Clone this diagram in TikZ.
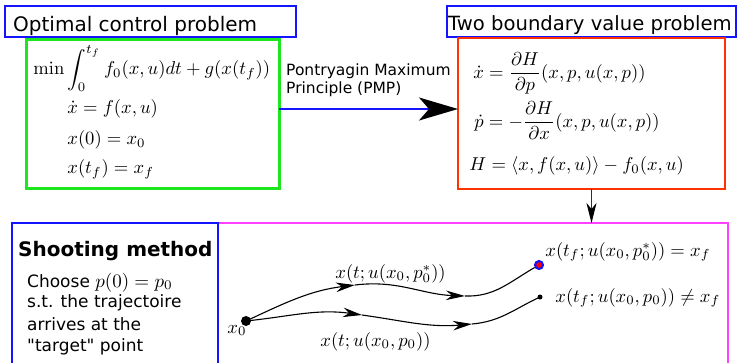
\documentclass[tikz,border=0pt]{standalone}
\usepackage{amsmath}
\usepackage[no-math]{fontspec}
\setmainfont{DejaVu Sans}[Ligatures=TeXOff]
\usetikzlibrary{arrows.meta}
\definecolor{cgreen}{RGB}{30,230,30}
\definecolor{cred}{RGB}{255,51,0}
\definecolor{cpink}{RGB}{255,64,255}
\definecolor{cblue}{RGB}{20,20,255}
\newcommand{\bigmath}[1]{\scalebox{1.9}{\fontsize{10}{12}\selectfont$#1$}}
\tikzset{
  box/.style={draw, anchor=north west, inner sep=0pt, outer sep=0pt},
  ttl/.style={anchor=base west, inner sep=0pt, font=\fontsize{20}{24}\selectfont},
  eq/.style={anchor=base west, inner sep=0pt, font=\fontsize{10}{12}\selectfont, scale=1.86},
  txt/.style={anchor=base west, inner sep=0pt, font=\fontsize{17}{20}\selectfont},
  pmptxt/.style={anchor=base west, inner sep=0pt, font=\fontsize{15.5}{18}\selectfont},
  traj/.style={line width=1.1pt},
  midarrow/.style={-{Stealth[length=19pt,width=9.5pt,inset=6pt]}},
}
\begin{document}
\begin{tikzpicture}[x=1pt,y=1pt]
\useasboundingbox (0,0) rectangle (737,-362);
\clip (0,0) rectangle (737,-362);

% boxes
\node[box, draw=cblue, line width=2.2pt, minimum width=291pt, minimum height=31pt] (t1) at (5,-6) {};
\node[box, draw=cgreen, line width=3pt, minimum width=253pt, minimum height=149pt] (green) at (26,-39) {};
\node[box, draw=cblue, line width=2.2pt, minimum width=289pt, minimum height=31pt] (t2) at (447,-6) {};
\node[box, draw=cred, line width=2pt, minimum width=267pt, minimum height=151pt] (red) at (458,-38) {};
\node[box, draw=cpink, line width=2.5pt, minimum width=510pt, minimum height=170pt] (pink) at (218,-223) {};
\node[box, draw=cblue, line width=2.4pt, minimum width=206pt, minimum height=170pt] (shoot) at (12,-223) {};

% titles
\node[ttl] (t1txt) at (13,-31) {Optimal control problem};
\node[ttl, font=\fontsize{19.6}{24}\selectfont] (t2txt) at (448,-30.7) {Two boundary value problem};

% optimal control equations
\node[eq] (m1) at (33,-74.6) {$\min\displaystyle\int_0^{t_f} f_0(x,u)dt+g(x(t_f))$};
\node[eq] (m2) at (67,-113) {$\dot x = f(x,u)$};
\node[eq] (m3) at (67,-144.6) {$x(0)=x_0$};
\node[eq] (m4) at (67,-173.6) {$x(t_f)=x_f$};

% BVP equations
\node[eq] (h1) at (473,-78) {$\dot x = \dfrac{\partial H}{\partial p}(x,p,u(x,p))$};
\node[eq] (h2) at (474,-127) {$\dot p = -\dfrac{\partial H}{\partial x}(x,p,u(x,p))$};
\node[eq] (h3) at (469,-170.5) {$H=\langle x,f(x,u)\rangle - f_0(x,u)$};

% PMP arrow
\node[pmptxt] (pmp1) at (286,-75) {Pontryagin Maximum};
\node[pmptxt] (pmp2) at (286,-93.3) {Principle (PMP)};
\draw[draw=cblue, line width=2pt, -{Stealth[length=39pt,width=23pt,inset=10pt,color=black]}]
  ([yshift=4.5pt]green.east) -- ([yshift=4.5pt]red.west);

% down arrow
\draw[draw=cblue, line width=1pt, -{Stealth[length=20pt,width=10pt,inset=6pt,color=black]}]
  (red.south) -- (red.south |- pink.north);

% shooting method text
\node[ttl, font=\fontsize{20}{24}\selectfont\bfseries] (smt) at (18,-256.7) {Shooting method};
\node[txt] (s1) at (27,-287) {Choose \bigmath{p(0)=p_0}};
\node[txt] (s2) at (27,-307.7) {s.t. the trajectoire};
\node[txt] (s3) at (27,-330) {arrives at the};
\node[txt] (s4) at (27,-351.7) {"target" point};

% trajectories
\node[circle, fill=black, inner sep=0pt, minimum size=10pt] (x0) at (246,-321) {};
\node[circle, draw=cblue, fill=red, line width=2pt, inner sep=0pt, minimum size=8pt] (e1) at (539,-265) {};
\node[circle, fill=black, inner sep=0pt, minimum size=5pt] (e2) at (540,-297) {};
\coordinate (a1) at (355,-285);
\coordinate (b1) at (465,-296);
\coordinate (a2) at (362,-315);
\coordinate (b2) at (472,-324);

\draw[traj, midarrow] (x0.center) to[out=25,in=187] (a1);
\draw[traj, midarrow] (a1) to[out=7,in=178] (b1);
\draw[traj] (b1) to[out=-2,in=210] (e1);
\draw[traj, midarrow] (x0.center) to[out=6,in=172] (a2);
\draw[traj, midarrow] (a2) to[out=-8,in=185] (b2);
\draw[traj] (b2) to[out=5,in=205] (e2.center);

\node[eq] (l1) at (335,-278) {$x(t;u(x_0,p_0^*))$};
\node[eq] (l2) at (320,-346) {$x(t;u(x_0,p_0))$};
\node[eq] (l3) at (545,-256) {$x(t_f;u(x_0,p_0^*))=x_f$};
\node[eq] (l4) at (555,-302) {$x(t_f;u(x_0,p_0))\neq x_f$};
\node[eq] (lx0) at (227,-333) {$x_0$};
\end{tikzpicture}
\end{document}
